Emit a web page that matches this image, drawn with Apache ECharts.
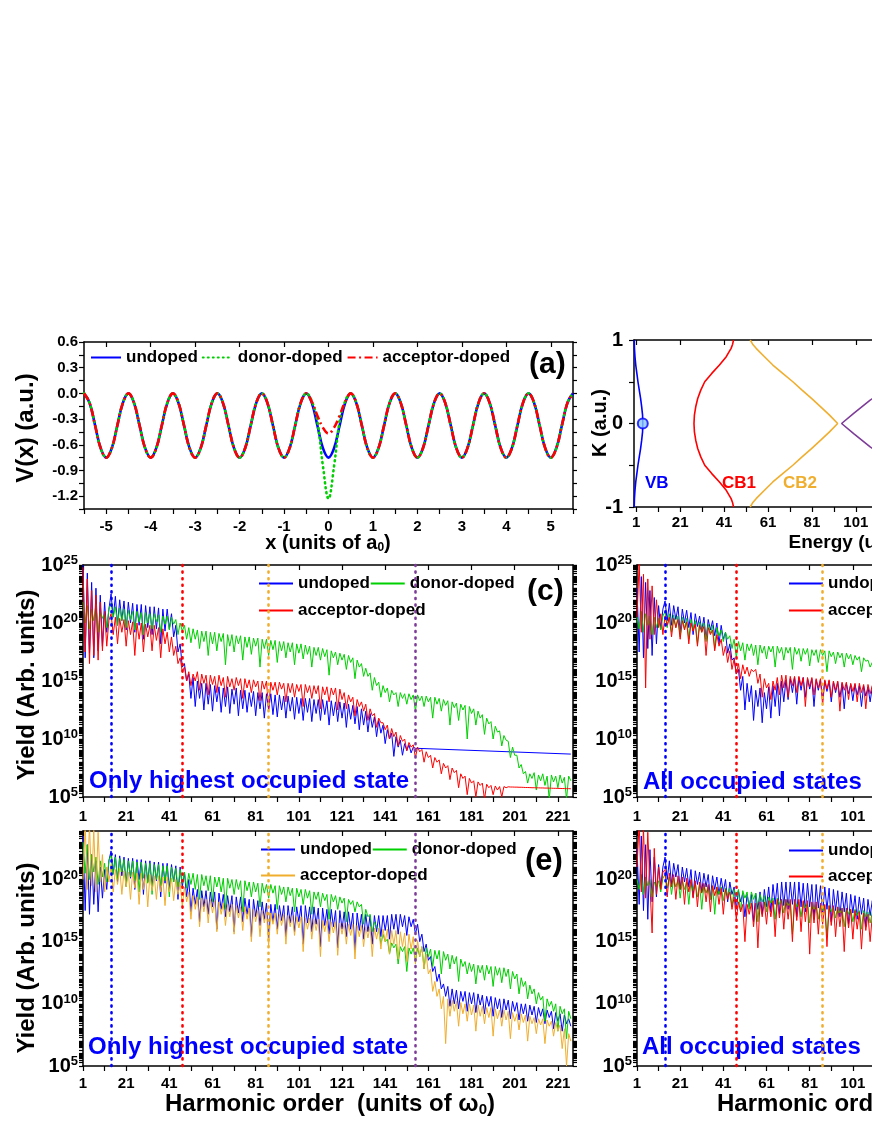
<!DOCTYPE html>
<html>
<head>
<meta charset="utf-8">
<title>Doped lattice HHG</title>
<script src="https://cdn.jsdelivr.net/npm/echarts@6.0.0/dist/echarts.min.js"></script>
<style>
  html, body { margin: 0; padding: 0; background: #fff; }
  #chart { width: 872px; height: 1128px; }
</style>
</head>
<body>
<div id="chart"></div>
<script>
const FONT = '"Liberation Sans", Arial, sans-serif';

// ---------- (a) lattice potential, sampled every 0.125 a0 from -5.5 ----------
const potStart = -5.5, potStep = 0.125;
const potUndoped = [
  0, -0.11, -0.375, -0.64, -0.75, -0.64, -0.375, -0.11,
  0, -0.11, -0.375, -0.64, -0.75, -0.64, -0.375, -0.11,
  0, -0.11, -0.375, -0.64, -0.75, -0.64, -0.375, -0.11,
  0, -0.11, -0.375, -0.64, -0.75, -0.64, -0.375, -0.11,
  0, -0.11, -0.375, -0.64, -0.75, -0.64, -0.375, -0.11,
  0, -0.11, -0.375, -0.64, -0.75, -0.64, -0.375, -0.11,
  0, -0.11, -0.375, -0.64, -0.75, -0.64, -0.375, -0.11,
  0, -0.11, -0.375, -0.64, -0.75, -0.64, -0.375, -0.11,
  0, -0.11, -0.375, -0.64, -0.75, -0.64, -0.375, -0.11,
  0, -0.11, -0.375, -0.64, -0.75, -0.64, -0.375, -0.11,
  0, -0.11, -0.375, -0.64, -0.75, -0.64, -0.375, -0.11,
  0
];
const potDonor = [
  0, -0.11, -0.375, -0.64, -0.75, -0.64, -0.375, -0.11,
  0, -0.11, -0.375, -0.64, -0.75, -0.64, -0.375, -0.11,
  0, -0.11, -0.375, -0.64, -0.75, -0.64, -0.375, -0.11,
  0, -0.11, -0.375, -0.64, -0.75, -0.64, -0.375, -0.11,
  0, -0.11, -0.375, -0.64, -0.75, -0.64, -0.375, -0.11,
  0, -0.09, -0.33, -0.85, -1.23, -0.85, -0.33, -0.09,
  0, -0.11, -0.375, -0.64, -0.75, -0.64, -0.375, -0.11,
  0, -0.11, -0.375, -0.64, -0.75, -0.64, -0.375, -0.11,
  0, -0.11, -0.375, -0.64, -0.75, -0.64, -0.375, -0.11,
  0, -0.11, -0.375, -0.64, -0.75, -0.64, -0.375, -0.11,
  0, -0.11, -0.375, -0.64, -0.75, -0.64, -0.375, -0.11,
  0
];
const potAcceptor = [
  0, -0.11, -0.375, -0.64, -0.75, -0.64, -0.375, -0.11,
  0, -0.11, -0.375, -0.64, -0.75, -0.64, -0.375, -0.11,
  0, -0.11, -0.375, -0.64, -0.75, -0.64, -0.375, -0.11,
  0, -0.11, -0.375, -0.64, -0.75, -0.64, -0.375, -0.11,
  0, -0.11, -0.375, -0.64, -0.75, -0.64, -0.375, -0.11,
  0, -0.1, -0.26, -0.4, -0.47, -0.4, -0.26, -0.1,
  0, -0.11, -0.375, -0.64, -0.75, -0.64, -0.375, -0.11,
  0, -0.11, -0.375, -0.64, -0.75, -0.64, -0.375, -0.11,
  0, -0.11, -0.375, -0.64, -0.75, -0.64, -0.375, -0.11,
  0, -0.11, -0.375, -0.64, -0.75, -0.64, -0.375, -0.11,
  0, -0.11, -0.375, -0.64, -0.75, -0.64, -0.375, -0.11,
  0
];
const potXLabels = [-5, -4, -3, -2, -1, 0, 1, 2, 3, 4, 5];
const potYLabels = [-1.2, -0.9, -0.6, -0.3, 0, 0.3, 0.6];

// ---------- (b) band structure: energy (units of w0) vs K ----------
const bandK = [-1, -0.95, -0.9, -0.8, -0.7, -0.6, -0.5, -0.4, -0.3, -0.2, -0.1, 0,
               0.1, 0.2, 0.3, 0.4, 0.5, 0.6, 0.7, 0.8, 0.9, 0.95, 1];
const vbE  = [0.1, 0.15, 0.2, 0.45, 0.8, 1.3, 1.8, 2.4, 3.0, 3.5, 3.9, 4.0,
              3.9, 3.5, 3.0, 2.4, 1.8, 1.3, 0.8, 0.45, 0.2, 0.15, 0.1];
const cb1E = [45.3, 44.9, 44.2, 42.0, 38.9, 35.4, 32.2, 30.4, 29.0, 28.1, 27.5, 27.3,
              27.5, 28.1, 29.0, 30.4, 32.2, 35.4, 38.9, 42.0, 44.2, 44.9, 45.3];
const cb2E = [52.9, 54.0, 55.6, 59.4, 63.2, 67.7, 72.3, 76.5, 80.8, 85.0, 89.0, 92.7,
              89.0, 85.0, 80.8, 76.5, 72.3, 67.7, 63.2, 59.4, 55.6, 54.0, 52.9];
const cb3K = [-1, -0.75, -0.5, -0.28, -0.12, 0, 0.12, 0.28, 0.5, 0.75, 1];
const cb3E = [150, 136, 120, 107.5, 100, 94.5, 100, 107.5, 120, 136, 150];
const vbMark = [4.0, 0];
const energyLabels = [1, 21, 41, 61, 81, 101, 121, 141, 161, 181, 201, 221];
const kLabels = [-1, 0, 1];

// ---------- HHG spectra: log10(yield) at harmonic orders 1, 2, 3, ... ----------
const orderLabels = [1, 21, 41, 61, 81, 101, 121, 141, 161, 181, 201, 221];
const yieldExpLabels = [5, 10, 15, 20, 25];
const cutoffOrders = [14, 47, 87, 155];
const cutoffColors = ['#0000FF', '#FF0000', '#F0AE2E', '#7D3C98'];

// (c) only highest occupied state
const blueC = [
  25.0, 17.0, 24.3, 17.4, 23.5, 17.0, 23.0, 17.6, 22.4, 18.0,
  21.8, 19.2, 21.2, 22.5, 20.5, 22.3, 19.8, 22.0, 20.2, 21.9,
  19.4, 21.8, 20.0, 21.7, 19.2, 21.6, 19.8, 21.6, 18.6, 21.5,
  19.6, 21.4, 19.0, 21.4, 19.5, 21.3, 18.2, 21.2, 19.3, 21.2,
  19.5, 20.8, 18.8, 19.8, 17.5, 18.2, 16.2, 16.5, 15.0, 15.6,
  13.5, 15.3, 12.8, 15.0, 13.5, 14.8, 12.5, 14.8, 13.0, 14.7,
  12.4, 14.6, 13.2, 14.5, 12.3, 14.4, 12.8, 14.5, 12.2, 14.3,
  13.0, 14.4, 12.0, 14.2, 12.6, 14.2, 12.3, 14.0, 12.8, 14.1,
  12.0, 14.0, 12.6, 14.0, 11.8, 13.9, 12.5, 13.9, 12.1, 13.8,
  11.9, 13.8, 12.5, 13.7, 11.8, 13.7, 12.4, 13.6, 11.7, 13.6,
  12.2, 13.5, 11.6, 13.5, 12.3, 13.5, 11.5, 13.4, 12.2, 13.4,
  11.6, 13.4, 12.1, 13.3, 11.2, 13.3, 12.0, 13.2, 11.5, 13.2,
  11.8, 13.1, 11.0, 13.0, 11.7, 12.9, 11.3, 12.8, 10.8, 12.6,
  11.2, 12.4, 10.6, 12.2, 11.0, 11.9, 10.2, 11.6, 10.5, 11.2,
  9.6, 10.8, 10.0, 10.5, 8.5, 10.2, 9.3, 9.9, 8.6, 9.6,
  9.0, 9.5, 8.8, 9.3, 9.2
];
const blueCEnd = [227, 8.7];
const greenC = [
  21.8, 20.0, 21.5, 19.5, 21.2, 20.2, 21.6, 19.2, 21.0, 20.4,
  20.8, 19.6, 21.2, 21.7, 20.5, 21.4, 19.8, 21.3, 20.2, 21.2,
  19.6, 21.1, 20.3, 21.0, 19.4, 21.0, 20.1, 20.9, 19.0, 20.9,
  20.0, 20.8, 19.5, 20.8, 20.1, 20.7, 19.2, 20.6, 19.9, 20.6,
  19.4, 20.5, 19.9, 20.3, 19.0, 20.0, 19.3, 19.8, 18.6, 19.6,
  18.3, 19.5, 18.6, 19.4, 17.8, 19.3, 18.4, 19.3, 17.2, 19.2,
  18.2, 19.2, 17.6, 19.1, 18.4, 19.1, 16.4, 19.0, 18.0, 19.0,
  17.5, 18.9, 18.2, 18.9, 16.8, 18.8, 17.9, 18.8, 17.3, 18.7,
  18.0, 18.7, 16.2, 18.6, 17.8, 18.6, 17.2, 18.5, 17.7, 18.5,
  16.6, 18.4, 17.6, 18.4, 17.0, 18.3, 17.5, 18.3, 16.4, 18.2,
  17.4, 18.2, 16.9, 18.1, 17.3, 18.0, 16.2, 17.9, 17.2, 17.9,
  16.8, 17.8, 17.1, 17.7, 15.5, 17.6, 17.0, 17.5, 16.4, 17.4,
  16.8, 17.3, 16.0, 17.2, 16.6, 17.0, 15.2, 16.8, 16.2, 16.5,
  15.4, 16.1, 15.4, 15.7, 14.2, 15.3, 14.6, 14.9, 13.6, 14.6,
  14.0, 14.4, 13.2, 14.2, 13.8, 14.0, 12.8, 14.0, 13.5, 13.9,
  13.0, 13.9, 13.4, 13.8, 12.4, 13.8, 13.3, 13.7, 12.8, 13.7,
  13.2, 13.6, 11.8, 13.6, 13.0, 13.5, 12.4, 13.4, 12.9, 13.3,
  11.2, 13.2, 12.7, 13.1, 11.6, 13.0, 12.5, 12.9, 10.0, 12.8,
  12.2, 12.6, 11.2, 12.4, 11.8, 12.1, 10.4, 11.8, 11.3, 11.5,
  10.0, 11.1, 10.6, 10.7, 9.4, 10.3, 9.9, 9.8, 8.4, 9.3,
  8.6, 8.6, 7.5, 7.8, 7.0, 7.2, 6.2, 7.0, 6.6, 7.1,
  5.6, 6.9, 6.4, 7.0, 6.0, 6.8, 4.8, 6.9, 6.3, 6.8,
  5.8, 6.9, 6.2, 6.7, 4.8, 6.8, 6.4
];
const redC = [
  24.8, 17.5, 23.8, 16.5, 22.8, 17.2, 22.4, 16.8, 21.8, 17.6,
  21.0, 18.0, 20.2, 20.8, 19.0, 20.5, 18.2, 20.4, 19.2, 20.3,
  18.0, 20.2, 19.0, 20.1, 17.2, 20.0, 18.6, 20.0, 17.5, 19.9,
  18.8, 19.8, 17.6, 19.8, 18.5, 19.6, 17.0, 19.5, 18.2, 19.2,
  17.5, 18.8, 17.2, 18.0, 16.5, 17.0, 15.8, 16.2, 15.0, 15.8,
  14.6, 15.6, 15.0, 15.8, 14.2, 15.6, 14.8, 15.5, 13.8, 15.5,
  14.7, 15.4, 14.0, 15.5, 14.6, 15.3, 13.6, 15.4, 14.5, 15.2,
  14.2, 15.3, 14.6, 15.2, 13.5, 15.2, 14.4, 15.1, 14.0, 15.1,
  14.5, 15.0, 13.3, 15.0, 14.3, 15.0, 12.6, 14.9, 14.2, 14.9,
  13.8, 14.9, 14.3, 14.8, 13.2, 14.8, 14.0, 14.8, 13.6, 14.7,
  14.1, 14.7, 12.8, 14.7, 14.0, 14.6, 13.5, 14.6, 13.9, 14.6,
  12.6, 14.5, 13.8, 14.5, 13.2, 14.4, 13.8, 14.4, 12.5, 14.3,
  13.4, 14.0, 12.6, 13.8, 13.2, 13.6, 12.0, 13.4, 12.8, 13.2,
  12.4, 13.0, 11.6, 12.6, 12.0, 12.2, 11.0, 11.8, 11.4, 11.4,
  10.8, 11.2, 10.0, 10.9, 10.2, 10.6, 9.4, 10.3, 9.8, 10.0,
  9.0, 9.7, 9.3, 9.5, 8.4, 9.3, 8.9, 9.1, 8.0, 8.9,
  8.4, 8.6, 7.5, 8.4, 8.0, 8.2, 7.0, 7.9, 7.5, 7.7,
  6.5, 7.5, 7.1, 7.3, 5.8, 7.0, 6.6, 6.8, 5.2, 6.6,
  6.2, 6.4, 5.0, 6.3, 6.0, 6.2, 4.8, 6.1, 5.8, 6.0,
  5.2, 5.95, 5.6, 5.9, 5.0, 5.9, 5.8, 5.88, 5.86, 5.86,
  5.85, 5.85, 5.84, 5.84, 5.83, 5.82, 5.82, 5.81, 5.8, 5.8,
  5.79, 5.79, 5.78, 5.78, 5.77, 5.77, 5.76, 5.76, 5.75, 5.75,
  5.74, 5.74, 5.73, 5.73, 5.72, 5.72, 5.71
];

// (d) all occupied states (only the visible part, orders 1-120)
const blueD = [
  23.0, 17.5, 24.0, 17.0, 23.5, 17.8, 22.8, 17.2, 22.2, 18.2,
  21.5, 19.5, 21.2, 21.9, 20.2, 21.7, 19.8, 21.5, 20.3, 21.4,
  19.2, 21.2, 20.0, 21.1, 19.6, 20.9, 19.0, 20.8, 19.7, 20.6,
  19.3, 20.5, 18.6, 20.3, 19.4, 20.2, 18.9, 20.0, 18.2, 19.8,
  18.6, 19.2, 17.4, 18.2, 16.8, 17.0, 15.6, 16.0, 14.2, 15.4,
  12.5, 14.8, 13.2, 14.6, 11.6, 14.2, 12.8, 14.4, 11.4, 14.0,
  12.6, 14.5, 11.8, 14.6, 12.8, 14.8, 12.0, 15.0, 13.2, 15.1,
  13.4, 15.2, 14.0, 15.3, 13.0, 15.3, 14.2, 15.3, 13.6, 15.2,
  14.3, 15.2, 12.8, 15.1, 14.2, 15.1, 13.4, 15.0, 14.1, 15.0,
  13.2, 14.9, 14.0, 14.9, 13.6, 14.8, 12.6, 14.8, 13.9, 14.7,
  13.3, 14.7, 13.8, 14.6, 12.8, 14.6, 13.7, 14.5, 13.2, 14.5,
  13.6, 14.4, 12.4, 14.4, 13.5, 14.3, 13.0, 14.3, 13.4, 14.2
];
const greenD = [
  20.5, 19.5, 21.0, 19.2, 20.8, 19.8, 20.6, 19.0, 20.5, 19.6,
  20.4, 19.4, 20.6, 21.0, 19.6, 20.8, 19.2, 20.7, 19.6, 20.6,
  18.8, 20.5, 19.5, 20.4, 18.6, 20.3, 19.4, 20.2, 18.2, 20.1,
  19.2, 20.0, 18.4, 19.9, 19.1, 19.8, 17.8, 19.6, 18.9, 19.4,
  18.4, 19.2, 18.6, 18.9, 17.8, 18.6, 17.0, 18.4, 17.6, 18.3,
  16.8, 18.2, 17.6, 18.2, 17.2, 18.1, 16.4, 18.1, 17.4, 18.0,
  16.9, 18.0, 17.5, 18.0, 16.2, 18.0, 17.4, 17.9, 16.8, 17.9,
  17.4, 17.9, 16.0, 17.9, 17.3, 17.8, 16.7, 17.8, 17.3, 17.8,
  16.3, 17.7, 17.2, 17.7, 16.6, 17.7, 17.2, 17.6, 15.8, 17.6,
  17.1, 17.5, 16.5, 17.5, 17.0, 17.4, 16.2, 17.4, 16.9, 17.3,
  16.4, 17.2, 16.8, 17.1, 15.8, 17.0, 16.7, 16.8, 16.2, 16.6,
  15.4, 16.4, 15.9, 16.2, 15.0, 16.0, 15.6, 15.8, 14.8, 15.7
];
const redD = [
  20.5, 25.2, 19.2, 24.2, 14.4, 23.8, 18.6, 23.2, 19.0, 22.0,
  19.6, 20.8, 19.0, 20.6, 19.8, 20.5, 18.8, 20.4, 19.6, 20.3,
  18.6, 20.2, 19.4, 20.1, 18.2, 20.0, 19.3, 19.9, 18.0, 19.8,
  19.2, 19.7, 17.2, 19.6, 19.0, 19.4, 17.6, 19.0, 18.0, 18.6,
  17.2, 18.0, 16.6, 17.6, 16.0, 16.9, 15.6, 16.5, 15.2, 16.4,
  15.6, 16.2, 15.4, 16.0, 15.8, 16.0, 14.8, 15.6, 13.6, 15.2,
  14.4, 14.8, 13.4, 15.0, 14.2, 15.3, 13.8, 15.5, 14.4, 15.5,
  13.6, 15.4, 14.6, 15.4, 14.0, 15.4, 14.6, 15.3, 12.8, 15.3,
  14.5, 15.3, 13.8, 15.2, 14.4, 15.2, 12.9, 15.1, 14.3, 15.1,
  13.6, 15.0, 14.2, 15.0, 12.4, 14.9, 14.2, 14.9, 13.4, 14.8,
  14.1, 14.8, 13.2, 14.8, 14.0, 14.7, 12.6, 14.7, 13.9, 14.6,
  13.4, 14.6, 13.8, 14.5, 12.8, 14.5, 13.7, 14.4, 12.2, 14.4
];

// (e) only highest occupied state
const blueE = [
  23.5, 17.5, 22.8, 17.2, 22.0, 18.0, 21.5, 17.4, 21.0, 18.5,
  20.8, 19.2, 21.5, 22.3, 20.5, 22.0, 19.8, 21.9, 20.3, 21.8,
  19.5, 21.7, 20.1, 21.7, 19.2, 21.6, 20.0, 21.6, 18.8, 21.5,
  19.8, 21.5, 19.3, 21.4, 19.9, 21.4, 18.6, 21.3, 19.7, 21.3,
  19.2, 21.2, 19.8, 21.1, 18.4, 21.0, 19.4, 20.6, 18.6, 20.0,
  17.4, 19.3, 18.0, 19.2, 16.6, 19.1, 17.8, 19.1, 17.2, 19.0,
  17.8, 19.0, 16.0, 18.9, 17.6, 18.8, 17.0, 18.7, 17.4, 18.7,
  15.8, 18.6, 17.3, 18.6, 16.6, 18.5, 17.2, 18.4, 15.4, 18.4,
  17.0, 18.3, 16.3, 18.2, 16.8, 18.1, 15.3, 18.0, 16.6, 18.0,
  16.0, 17.9, 16.7, 17.9, 15.4, 17.9, 16.5, 17.8, 15.8, 17.8,
  16.6, 17.9, 14.8, 17.9, 16.5, 17.8, 15.8, 17.8, 16.4, 17.7,
  14.6, 17.7, 16.3, 17.6, 15.6, 17.6, 16.2, 17.5, 14.5, 17.5,
  16.0, 17.4, 15.4, 17.4, 16.0, 17.3, 14.3, 17.3, 15.9, 17.2,
  15.2, 17.2, 15.8, 17.1, 14.8, 17.1, 15.8, 17.1, 15.4, 17.1,
  15.9, 17.1, 15.2, 17.2, 16.0, 17.2, 15.6, 17.2, 16.2, 17.1,
  15.5, 17.0, 16.2, 16.8, 15.6, 16.4, 15.0, 15.6, 14.2, 14.8,
  13.5, 13.8, 12.6, 13.0, 11.8, 12.4, 11.2, 11.6, 10.6, 11.4,
  9.8, 11.2, 10.0, 11.1, 9.6, 11.0, 10.2, 11.0, 9.4, 10.9,
  10.0, 10.9, 9.3, 10.8, 9.9, 10.7, 9.2, 10.6, 9.8, 10.6,
  9.0, 10.5, 9.6, 10.4, 8.9, 10.4, 9.5, 10.3, 8.8, 10.2,
  9.4, 10.1, 8.7, 10.0, 9.2, 10.0, 8.6, 9.9, 9.1, 9.8,
  8.5, 9.7, 9.0, 9.6, 8.4, 9.5, 8.9, 9.4, 8.0, 9.3,
  8.6, 9.2, 7.8, 9.1, 8.4, 8.8, 8.2
];
const greenE = [
  23.0, 20.5, 22.8, 20.0, 22.0, 20.6, 21.8, 19.6, 21.5, 20.2,
  21.3, 19.8, 21.5, 22.0, 20.4, 21.8, 20.0, 21.7, 20.6, 21.6,
  19.4, 21.5, 20.2, 21.5, 19.9, 21.4, 19.0, 21.4, 20.1, 21.3,
  19.7, 21.3, 18.8, 21.2, 20.0, 21.2, 19.5, 21.1, 19.9, 21.1,
  18.6, 21.0, 19.8, 20.9, 19.4, 20.8, 19.7, 20.6, 19.3, 20.5,
  19.6, 20.5, 19.2, 20.4, 18.4, 20.4, 19.5, 20.3, 19.1, 20.3,
  18.2, 20.2, 19.4, 20.2, 19.0, 20.1, 17.6, 20.1, 19.3, 20.0,
  18.8, 20.0, 19.2, 19.9, 17.4, 19.9, 19.1, 19.8, 18.6, 19.8,
  19.0, 19.7, 17.8, 19.7, 18.9, 19.6, 18.5, 19.6, 18.9, 19.5,
  17.6, 19.5, 18.8, 19.4, 18.2, 19.4, 18.7, 19.3, 17.4, 19.3,
  18.6, 19.2, 18.0, 19.2, 18.5, 19.1, 17.2, 19.0, 18.4, 19.0,
  17.8, 18.9, 18.3, 18.8, 16.8, 18.8, 18.2, 18.7, 17.6, 18.6,
  18.1, 18.5, 16.6, 18.4, 18.0, 18.3, 17.4, 18.2, 17.8, 18.0,
  16.4, 17.6, 17.0, 17.2, 15.8, 16.6, 16.2, 16.0, 14.8, 15.6,
  15.0, 15.2, 14.0, 14.9, 14.5, 14.8, 13.2, 14.6, 14.2, 14.6,
  12.6, 14.5, 14.0, 14.5, 13.4, 14.5, 13.8, 14.6, 12.8, 14.5,
  13.8, 14.4, 13.0, 14.3, 13.6, 14.3, 12.4, 14.2, 13.5, 14.0,
  12.8, 13.9, 13.2, 13.8, 11.8, 13.6, 13.0, 13.4, 12.4, 13.3,
  12.6, 13.2, 11.6, 13.1, 12.5, 13.1, 11.9, 13.1, 12.4, 13.0,
  11.4, 13.0, 12.3, 12.9, 11.7, 12.9, 12.2, 12.8, 11.2, 12.6,
  12.0, 12.4, 10.8, 12.1, 11.4, 11.8, 10.4, 11.5, 10.8, 11.2,
  10.0, 10.9, 10.3, 10.6, 8.6, 10.4, 9.8, 10.2, 9.4, 10.0,
  7.8, 9.8, 9.2, 9.6, 7.2, 9.4, 8.8
];
const orangeE = [
  20.0, 24.5, 19.2, 24.5, 19.5, 24.0, 19.0, 23.8, 19.8, 22.0,
  19.0, 21.0, 19.8, 21.2, 19.0, 20.8, 19.6, 20.9, 18.8, 20.7,
  19.4, 20.6, 18.4, 20.6, 19.3, 20.5, 18.0, 20.5, 19.2, 20.4,
  17.8, 20.4, 19.1, 20.3, 18.4, 20.3, 19.0, 20.2, 17.9, 20.2,
  19.0, 20.1, 18.3, 20.0, 18.8, 19.8, 17.8, 19.4, 18.2, 19.0,
  16.8, 18.7, 17.6, 18.6, 16.2, 18.5, 17.4, 18.4, 16.5, 18.4,
  17.3, 18.3, 15.8, 18.2, 17.2, 18.1, 16.3, 18.0, 17.0, 18.0,
  15.6, 17.9, 16.9, 17.8, 15.9, 17.8, 16.8, 17.7, 15.0, 17.6,
  16.6, 17.5, 15.4, 17.5, 16.5, 17.4, 14.6, 17.3, 16.4, 17.3,
  15.6, 17.2, 16.3, 17.2, 14.8, 17.1, 16.2, 17.1, 15.5, 17.0,
  16.1, 17.0, 14.2, 16.9, 16.0, 16.9, 15.2, 16.8, 15.9, 16.8,
  13.8, 16.7, 15.8, 16.7, 15.0, 16.6, 15.7, 16.6, 13.9, 16.5,
  15.6, 16.5, 14.8, 16.4, 15.5, 16.4, 13.6, 16.3, 15.4, 16.3,
  14.6, 16.2, 15.3, 16.2, 13.8, 16.1, 15.2, 16.1, 14.4, 16.0,
  15.0, 16.0, 14.0, 15.9, 14.8, 15.9, 13.6, 15.8, 14.6, 15.7,
  13.4, 15.6, 14.4, 15.4, 13.2, 15.1, 13.8, 14.6, 12.8, 14.0,
  12.4, 12.8, 11.0, 11.8, 10.6, 11.2, 9.6, 10.6, 6.8, 10.4,
  9.0, 10.3, 9.4, 10.2, 8.2, 10.1, 9.2, 10.0, 8.6, 10.0,
  9.1, 9.9, 7.8, 9.9, 9.0, 9.8, 8.4, 9.7, 8.9, 9.7,
  7.4, 9.6, 8.8, 9.5, 8.2, 9.5, 8.7, 9.4, 7.2, 9.3,
  8.6, 9.2, 7.9, 9.2, 8.5, 9.1, 7.0, 9.0, 8.4, 8.9,
  7.6, 8.8, 8.3, 8.8, 6.8, 8.7, 8.2, 8.6, 7.4, 8.5,
  7.8, 8.3, 6.4, 8.0, 5.0, 7.6, 7.0
];

// (f) all occupied states (orders 1-120)
const blueF = [
  22.5, 18.0, 23.5, 17.5, 22.8, 16.8, 22.4, 18.2, 21.8, 18.6,
  21.2, 19.4, 21.0, 21.8, 20.0, 21.5, 19.6, 21.3, 20.2, 21.2,
  19.2, 21.0, 19.8, 20.9, 19.4, 20.8, 18.6, 20.7, 19.6, 20.6,
  19.0, 20.5, 19.4, 20.4, 18.4, 20.3, 19.2, 20.2, 18.8, 20.1,
  19.0, 20.0, 18.2, 19.8, 18.8, 19.4, 17.6, 19.1, 18.2, 18.9,
  17.0, 18.8, 17.8, 18.8, 16.6, 18.9, 17.6, 19.0, 17.2, 19.2,
  17.8, 19.4, 17.4, 19.6, 18.0, 19.7, 17.2, 19.8, 17.9, 19.8,
  17.6, 19.8, 18.0, 19.8, 17.0, 19.8, 17.8, 19.7, 17.4, 19.7,
  17.8, 19.6, 16.8, 19.6, 17.7, 19.5, 17.2, 19.4, 17.6, 19.3,
  16.6, 19.2, 17.5, 19.1, 17.0, 19.0, 17.4, 18.9, 16.4, 18.8,
  17.3, 18.7, 16.8, 18.6, 17.2, 18.5, 16.2, 18.4, 17.1, 18.3,
  16.6, 18.2, 17.0, 18.1, 16.0, 18.0, 16.9, 17.9, 16.5, 17.8
];
const greenF = [
  20.0, 19.2, 20.4, 18.8, 20.2, 19.5, 20.0, 18.6, 19.8, 19.4,
  19.9, 19.0, 20.1, 20.4, 19.3, 20.2, 18.8, 20.1, 19.4, 20.0,
  18.5, 19.9, 19.2, 19.8, 18.0, 19.8, 19.1, 19.7, 18.6, 19.6,
  17.6, 19.6, 18.9, 19.5, 18.4, 19.5, 17.2, 19.4, 18.8, 19.4,
  18.3, 19.3, 18.7, 19.3, 17.8, 19.2, 18.6, 19.2, 17.4, 19.1,
  18.5, 19.0, 17.6, 19.0, 18.4, 18.9, 16.6, 18.8, 18.2, 18.7,
  17.4, 18.6, 18.1, 18.5, 16.8, 18.5, 18.0, 18.4, 17.3, 18.4,
  17.9, 18.3, 15.6, 18.3, 17.8, 18.2, 17.0, 18.2, 17.7, 18.1,
  16.5, 18.1, 17.6, 18.0, 16.8, 18.0, 17.5, 17.9, 15.4, 17.9,
  17.4, 17.8, 16.9, 17.8, 17.3, 17.7, 16.2, 17.7, 17.2, 17.6,
  16.6, 17.6, 17.1, 17.5, 16.0, 17.5, 17.0, 17.4, 16.5, 17.4,
  16.9, 17.3, 15.8, 17.3, 16.8, 17.2, 16.3, 17.2, 16.7, 17.1
];
const redF = [
  21.0, 24.5, 19.0, 24.2, 18.5, 23.8, 19.5, 15.7, 22.5, 18.8,
  21.0, 19.2, 20.6, 20.8, 18.6, 20.5, 19.4, 20.4, 18.4, 20.3,
  19.2, 20.2, 18.0, 20.1, 19.0, 20.0, 18.5, 19.9, 17.8, 19.8,
  18.9, 19.7, 18.2, 19.6, 17.4, 19.5, 18.7, 19.4, 18.0, 19.3,
  17.2, 19.2, 18.4, 19.0, 17.6, 18.6, 16.8, 18.2, 17.4, 18.0,
  15.0, 18.0, 17.2, 18.1, 16.2, 18.1, 14.5, 18.2, 17.0, 18.2,
  16.4, 18.3, 17.0, 18.3, 15.4, 18.4, 16.9, 18.4, 16.0, 18.4,
  16.8, 18.4, 15.0, 18.4, 16.7, 18.4, 15.8, 18.3, 16.6, 18.3,
  14.0, 18.2, 16.5, 18.2, 15.6, 18.1, 16.4, 18.0, 14.6, 17.9,
  16.3, 17.9, 15.4, 17.8, 16.2, 17.7, 14.2, 17.7, 16.1, 17.6,
  15.2, 17.5, 16.0, 17.4, 14.4, 17.3, 15.9, 17.2, 15.0, 17.1,
  15.8, 17.0, 14.8, 16.9, 15.7, 16.8, 15.2, 16.7, 15.6, 16.6
];

// ---------- helpers ----------
const ord = vals => vals.map((v, i) => [i + 1, v]);
const zip = (xs, ys) => xs.map((x, i) => [x, ys[i]]);
const range = (a, b, s) => { const r = []; for (let v = a; v <= b + 1e-9; v += s) r.push(+v.toFixed(4)); return r; };
const logTicks = (lo, hi) => {
  const t = [];
  for (let e = lo; e <= hi; e++) for (let k = 1; k <= 9; k++) { const v = e + Math.log10(k); if (v <= hi + 1e-9) t.push(v); }
  return t;
};

const AX = { color: '#000', width: 1.5 };
const tickStyle = { color: '#000', width: 1.2 };
const lbl = { fontFamily: FONT, fontWeight: 'bold', color: '#000' };

function axisX(gi, min, max, pos, ticks, labels, opt) {
  opt = opt || {};
  return {
    type: 'value', gridIndex: gi, position: pos, min, max,
    axisLine: { show: true, onZero: false, lineStyle: AX },
    splitLine: { show: false },
    axisTick: { show: true, inside: pos === 'top', length: opt.tickLen || 5, customValues: ticks, lineStyle: tickStyle },
    axisLabel: labels ? Object.assign({ show: true, customValues: labels, margin: opt.margin || 8, fontSize: opt.size || 15 }, lbl, opt.label || {}) : { show: false }
  };
}
function axisY(gi, min, max, pos, ticks, labels, opt) {
  opt = opt || {};
  return {
    type: 'value', gridIndex: gi, position: pos, min, max,
    axisLine: { show: true, onZero: false, lineStyle: AX },
    splitLine: { show: false },
    axisTick: { show: true, inside: false, length: opt.tickLen || 5, customValues: ticks, lineStyle: tickStyle },
    axisLabel: labels ? Object.assign({ show: true, customValues: labels, margin: opt.margin || 6, fontSize: opt.size || 15 }, lbl, opt.label || {}) : { show: false }
  };
}

const expLabel = {
  formatter: v => '{b|10}{s|' + Math.round(v) + '}',
  rich: {
    b: { fontSize: 20, fontWeight: 'bold', fontFamily: FONT, color: '#000' },
    s: { fontSize: 13, fontWeight: 'bold', fontFamily: FONT, color: '#000', padding: [0, 0, 9, 0] }
  }
};

const ORD_MIN = 1, ORD_MAX = 228;
const ordTicks = range(1, 221, 10);
const grids = [
  { left: 84, top: 342, width: 489, height: 167 },   // (a)
  { left: 634, top: 340, width: 489, height: 167 },  // (b)
  { left: 83, top: 565, width: 490, height: 232 },   // (c)
  { left: 637, top: 565, width: 490, height: 232 },  // (d)
  { left: 83, top: 831, width: 490, height: 235 },   // (e)
  { left: 637, top: 831, width: 490, height: 235 }   // (f)
].map(g => Object.assign({ outerBoundsMode: 'none', containLabel: false }, g));
const yTop = [null, null, 25, 25, 23.9, 23.9];

const xAxis = [], yAxis = [];
// (a)
xAxis.push(axisX(0, -5.5, 5.5, 'bottom', range(-5.5, 5.5, 0.5), potXLabels, { margin: 10 }));
xAxis.push(axisX(0, -5.5, 5.5, 'top', potXLabels, null));
yAxis.push(axisY(0, -1.35, 0.6, 'left', range(-1.35, 0.6, 0.15), potYLabels, { label: { formatter: v => v.toFixed(1) } }));
yAxis.push(axisY(0, -1.35, 0.6, 'right', range(-1.35, 0.6, 0.15), null, { tickLen: 4 }));
// (b)
xAxis.push(axisX(1, 0, 222.6, 'bottom', ordTicks, energyLabels, { margin: 8 }));
xAxis.push(axisX(1, 0, 222.6, 'top', energyLabels, null));
yAxis.push(axisY(1, -1, 1, 'left', [-1, -0.5, 0, 0.5, 1], kLabels, { margin: 11, size: 20 }));
yAxis.push(axisY(1, -1, 1, 'right', [-1, -0.5, 0, 0.5, 1], null));
// (c)-(f)
for (let g = 2; g < 6; g++) {
  const top = yTop[g];
  xAxis.push(axisX(g, ORD_MIN, ORD_MAX, 'bottom', ordTicks, orderLabels, { margin: g < 4 ? 12 : 10 }));
  xAxis.push(axisX(g, ORD_MIN, ORD_MAX, 'top', orderLabels, null));
  yAxis.push(axisY(g, 5, top, 'left', logTicks(5, 25).filter(v => v <= top + 1e-9), yieldExpLabels.filter(v => v <= top), { tickLen: 4, margin: 5, label: expLabel }));
  yAxis.push(axisY(g, 5, top, 'right', logTicks(5, 25).filter(v => v <= top + 1e-9), null, { tickLen: 4 }));
}

const BLUE = '#0000FF', GREEN = '#00D000', RED = '#FF0000', ORANGE = '#F0AE2E', PURPLE = '#7D3C98';

function line(name, gi, data, color, width, extra) {
  return Object.assign({
    name, type: 'line', xAxisIndex: 2 * gi, yAxisIndex: 2 * gi, data,
    symbol: 'none', showSymbol: false, clip: true, animation: false,
    lineStyle: { color, width }, itemStyle: { color }, emphasis: { disabled: true }
  }, extra || {});
}
const cutoffMark = {
  silent: true, symbol: ['none', 'none'], label: { show: false }, emphasis: { disabled: true },
  data: cutoffOrders.map((o, i) => ({ xAxis: o, lineStyle: { color: cutoffColors[i], type: [1, 5.6], width: 2.6, cap: 'round' } }))
};

const potX = potUndoped.map((_, i) => potStart + i * potStep);

const series = [
  // (a)
  line('a:undoped', 0, zip(potX, potUndoped), BLUE, 2.6, { smooth: 0.4 }),
  line('a:donor-doped', 0, zip(potX, potDonor), GREEN, 2.6, { smooth: 0.4, lineStyle: { color: GREEN, width: 2.6, type: [1, 4], cap: 'round' } }),
  line('a:acceptor-doped', 0, zip(potX, potAcceptor), RED, 2.6, { smooth: 0.4, lineStyle: { color: RED, width: 2.6, type: [8, 3.5, 2, 3.5] } }),
  // (b)
  line('b:VB', 1, zip(vbE, bandK), BLUE, 1.6),
  line('b:CB1', 1, zip(cb1E, bandK), RED, 1.6),
  line('b:CB2', 1, zip(cb2E, bandK), ORANGE, 1.6),
  line('b:CB3', 1, zip(cb3E, cb3K), PURPLE, 1.6),
  { name: 'b:VBpt', type: 'scatter', xAxisIndex: 2, yAxisIndex: 2, data: [vbMark], symbolSize: 10, silent: true,
    itemStyle: { color: '#8CC8FF', borderColor: BLUE, borderWidth: 2 }, z: 5 },
  // (c)
  line('c:undoped', 2, ord(blueC).concat([blueCEnd]), BLUE, 1),
  line('c:donor-doped', 2, ord(greenC), GREEN, 1),
  line('c:acceptor-doped', 2, ord(redC), RED, 1, { markLine: cutoffMark }),
  // (d)
  line('d:undoped', 3, ord(blueD), BLUE, 1),
  line('d:donor-doped', 3, ord(greenD), GREEN, 1),
  line('d:acceptor-doped', 3, ord(redD), RED, 1, { markLine: cutoffMark }),
  // (e)
  line('e:undoped', 4, ord(blueE), BLUE, 1),
  line('e:donor-doped', 4, ord(greenE), GREEN, 1),
  line('e:acceptor-doped', 4, ord(orangeE), ORANGE, 1, { markLine: cutoffMark }),
  // (f)
  line('f:undoped', 5, ord(blueF), BLUE, 1),
  line('f:donor-doped', 5, ord(greenF), GREEN, 1),
  line('f:acceptor-doped', 5, ord(redF), RED, 1, { markLine: cutoffMark })
];

function legend(names, left, top, iw, gap) {
  return {
    data: names, left, top, orient: 'horizontal', padding: 0, itemGap: gap,
    itemWidth: iw, itemHeight: 12, selectedMode: false,
    itemStyle: { opacity: 0 },
    formatter: n => n.slice(2),
    textStyle: { fontFamily: FONT, fontWeight: 'bold', fontSize: 17, color: '#000' }
  };
}

function txt(text, x, y, size, color, extra) {
  const el = {
    type: 'text', x, y, silent: true,
    style: { text, fill: color, fontSize: size, fontWeight: 'bold', fontFamily: FONT, align: 'left', verticalAlign: 'middle' }
  };
  if (extra) Object.assign(el.style, extra);
  return el;
}
function ytitle(text, x, y, size) {
  const el = txt(text, x, y, size, '#000', { align: 'center' });
  el.rotation = Math.PI / 2;
  return el;
}
function xtitle(main, sub, tail, x, y, size) {
  return txt('{m|' + main + '}{s|' + sub + '}{m|' + tail + '}', x, y, size, '#000', {
    align: 'center',
    rich: {
      m: { fontSize: size, fontWeight: 'bold', fontFamily: FONT },
      s: { fontSize: Math.round(size * 0.62), fontWeight: 'bold', fontFamily: FONT, padding: [size * 0.45, 0, 0, 0] }
    }
  });
}

const graphic = [
  txt('(a)', 529, 365, 30, '#000'),
  txt('(c)', 527, 592, 30, '#000'),
  txt('(e)', 525, 861, 31, '#000'),
  txt('VB', 645, 483, 17, BLUE),
  txt('CB1', 722, 483, 17, RED),
  txt('CB2', 783, 483, 17, ORANGE),
  txt('Only highest occupied state', 89, 781, 24, BLUE),
  txt('Only highest occupied state', 88, 1047, 24, BLUE),
  txt('All occupied states', 643, 782, 24, BLUE),
  txt('All occupied states', 642, 1047, 24, BLUE),
  ytitle('V(x) (a.u.)', 26, 428, 24),
  ytitle('K (a.u.)', 600, 423, 20),
  ytitle('Yield (Arb. units)', 27, 685, 24),
  ytitle('Yield (Arb. units)', 27, 958, 24),
  xtitle('x (units of a', '0', ')', 328, 543, 20),
  xtitle('Energy (units of \u03c9', '0', ')', 878, 543, 19),
  xtitle('Harmonic order  (units of \u03c9', '0', ')', 330, 1104, 24),
  xtitle('Harmonic order  (units of \u03c9', '0', ')', 882, 1104, 24)
];

const chart = echarts.init(document.getElementById('chart'));
chart.setOption({
  backgroundColor: '#fff',
  animation: false,
  grid: grids,
  xAxis, yAxis, series, graphic,
  legend: [
    legend(['a:undoped', 'a:donor-doped', 'a:acceptor-doped'], 90, 349, 30, 4),
    legend(['c:undoped', 'c:donor-doped'], 258, 575, 34, 0),
    legend(['c:acceptor-doped'], 258, 602, 34, 0),
    legend(['d:undoped'], 788, 575, 34, 0),
    legend(['d:acceptor-doped'], 788, 602, 34, 0),
    legend(['e:undoped', 'e:donor-doped'], 260, 841, 34, 0),
    legend(['e:acceptor-doped'], 260, 867, 34, 0),
    legend(['f:undoped'], 788, 842, 34, 0),
    legend(['f:acceptor-doped'], 788, 868, 34, 0)
  ]
});
</script>
</body>
</html>
